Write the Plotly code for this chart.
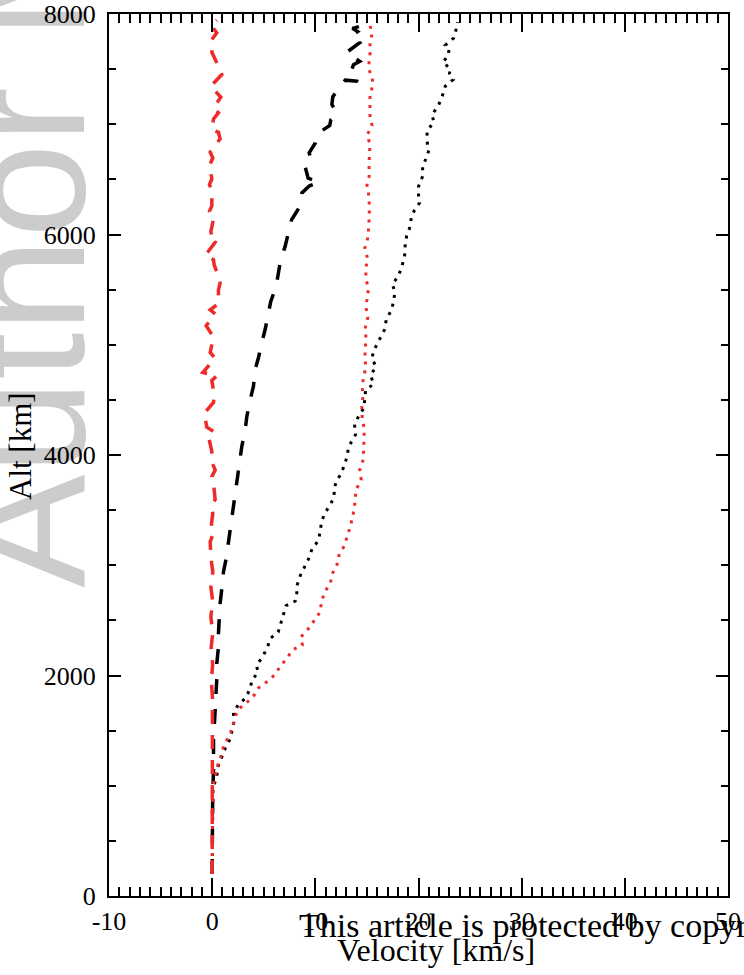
import plotly.graph_objects as go

# ---- data (velocity [km/s], altitude [km]) ----
bdot_v = [0.0, 0.0, 0.07, 0.45, 0.5, 0.9, 1.3, 1.75, 2.1, 2.06, 2.55, 3.23, 3.65, 3.87, 4.45, 4.29, 4.87, 5.32, 5.68,
          6.4, 6.65, 6.94, 7.16, 8.06, 8.2, 8.26, 8.55, 8.97, 9.4, 9.7, 10.3, 10.45, 10.6, 10.9, 11.45, 11.84, 11.8,
          12.07, 12.55, 13.0, 13.2, 13.5, 13.9, 13.8, 14.23, 14.7, 14.78, 14.88, 15.65, 15.36, 15.88, 15.46, 15.78,
          16.26, 16.7, 16.88, 17.3, 17.6, 17.7, 17.46, 18.04, 18.37, 18.65, 18.7, 18.85, 19.2, 19.3, 19.6, 20.1,
          20.0, 20.0, 20.4, 20.4, 20.8, 21.0, 20.8, 20.85, 21.5, 21.3, 21.9, 22.3, 22.6, 23.36, 23.0, 23.1, 22.36,
          22.87, 22.97, 22.6, 23.4, 23.6, 23.78]
bdot_h = [200, 600, 987, 1072, 1162, 1253, 1347, 1425, 1574, 1662, 1738, 1795, 1874, 1958, 2031, 2092, 2167, 2249,
          2340, 2394, 2469, 2548, 2633, 2675, 2745, 2827, 2909, 2987, 3069, 3154, 3223, 3299, 3390, 3472, 3547, 3626,
          3692, 3765, 3840, 3962, 4055, 4122, 4185, 4276, 4358, 4425, 4509, 4591, 4643, 4724, 4803, 4879, 4969,
          5051, 5136, 5227, 5302, 5390, 5484, 5551, 5620, 5705, 5801, 5892, 5986, 6074, 6153, 6219, 6286, 6361,
          6434, 6528, 6618, 6703, 6764, 6855, 6945, 7018, 7088, 7163, 7254, 7345, 7405, 7460, 7502, 7562, 7623,
          7684, 7717, 7781, 7841, 7926]

bdash_v = [0.0, 0.0, 0.05, 0.13, 0.13, 0.3, 0.4, 0.45, 0.45, 0.61, 0.61, 0.7, 0.77, 0.94, 1.1, 1.36, 1.58, 1.8,
           2.0, 2.2, 2.4, 2.6, 2.7, 2.87, 3.2, 3.36, 3.68, 4.0, 4.16, 4.48, 4.8, 5.13, 5.45, 5.68, 6.2, 6.36, 6.65,
           7.07, 7.4, 7.7, 8.5, 8.7, 9.4, 10.4, 9.3, 9.0, 9.6, 9.4, 10.0, 10.3, 11.4, 11.5, 12.1, 11.6, 11.7, 12.2,
           12.9, 14.1, 13.4, 13.7, 14.3, 13.0, 14.3, 13.5, 14.1, 13.6, 15.0]
bdash_h = [200, 600, 900, 1141, 1414, 1701, 1837, 1974, 2110, 2261, 2382, 2533, 2654, 2791, 2941, 3063, 3214, 3336,
           3486, 3608, 3759, 3865, 3955, 4076, 4228, 4349, 4500, 4621, 4773, 4879, 5015, 5136, 5287, 5393, 5529,
           5635, 5777, 5892, 6013, 6134, 6255, 6377, 6440, 6475, 6510, 6620, 6680, 6740, 6830, 6920, 6990, 7040,
           7100, 7180, 7250, 7320, 7400, 7390, 7460, 7540, 7570, 7650, 7740, 7800, 7840, 7870, 7905]

rdot_v = [0.0, 0.0, 0.07, 0.45, 0.8, 1.07, 1.48, 1.9, 2.16, 2.48, 3.26, 4.0, 4.5, 5.3, 6.08, 6.6, 7.23, 7.8, 8.74,
          8.6, 9.3, 9.9, 10.45, 10.6, 10.9, 11.45, 11.65, 12.1, 12.3, 12.8, 13.1, 13.4, 13.6, 13.8, 13.86, 14.0,
          14.45, 14.3, 14.65, 14.7, 14.7, 14.75, 14.55, 14.5, 14.6, 14.57, 14.65, 14.9, 14.8, 14.85, 14.9, 14.85,
          15.1, 14.9, 15.0, 15.15, 14.9, 14.9, 15.05, 14.8, 15.1, 15.17, 15.23, 15.23, 15.2, 15.0, 15.23, 15.2,
          15.27, 15.3, 15.0, 15.5, 15.3, 15.3, 15.3, 15.6, 15.5, 15.2, 15.2, 15.3, 15.3, 15.3, 15.5, 15.3]
rdot_h = [200, 600, 984, 1162, 1253, 1347, 1425, 1508, 1603, 1690, 1747, 1811, 1888, 1943, 2008, 2084, 2155, 2233,
          2276, 2349, 2421, 2497, 2573, 2667, 2757, 2836, 2923, 3005, 3093, 3175, 3266, 3354, 3438, 3523, 3611,
          3694, 3774, 3866, 3958, 4052, 4143, 4237, 4325, 4424, 4515, 4606, 4703, 4793, 4884, 4972, 5066, 5157,
          5251, 5339, 5423, 5508, 5599, 5693, 5787, 5880, 5972, 6065, 6162, 6255, 6346, 6446, 6534, 6631, 6722,
          6822, 6900, 6988, 7076, 7163, 7275, 7357, 7424, 7496, 7557, 7626, 7685, 7750, 7817, 7898]

rdash_v = [0.0, 0.0, 0.0, 0.0, -0.03, 0.03, -0.08, 0.05, -0.1, 0.06, -0.13, 0.06, -0.13, 0.06, -0.13,
           -0.19, 0.06, -0.13, 0.06, -0.03, 0.29, 0.13, -0.03, 0.29,
           -0.13, -0.03, -0.36, 0.13, -0.52, -0.77, 0.13, 0.19, -0.03, 0.45, -0.9, -0.19, 0.29, -0.19,
           0.13, -0.58, 0.29, -0.19, 0.61, 0.61, 0.77, 0.61, 0.19, 0.13, -0.68, 0.29, -0.26, -0.03, -0.13,
           0.19, -0.26, -0.03, -0.03, -0.26, -0.03, -0.26, 0.06, -0.19, 0.77, 0.61, -0.03, 0.13, 0.61, 0.13,
           0.84, -0.13, 0.71, 0.94, 0.61, -0.03, 0.13, -0.03, 0.45, -0.13, 0.45]
rdash_h = [200, 600, 900, 1200, 1500, 1800, 1950, 2100, 2250, 2391, 2533, 2669, 2806, 2942, 3072,
           3214, 3275, 3326, 3471, 3538, 3598, 3744, 3804, 3865,
           3956, 4031, 4168, 4213, 4252, 4379, 4476, 4552, 4676, 4718, 4748, 4827, 4878, 4930,
           5069, 5172, 5281, 5317, 5372, 5499, 5559, 5620, 5726, 5771, 5808, 5929, 5959, 5977, 6028,
           6165, 6210, 6262, 6392, 6452, 6503, 6625, 6694, 6746, 6867, 6927, 6951, 7048, 7103, 7148,
           7245, 7345, 7420, 7451, 7526, 7653, 7708, 7768, 7829, 7896, 7944]

x_tickvals = [-10, 0, 10, 20, 30, 40, 50]
x_ticktext = ["-10", "0", "10", "20", "30", "40", "50"]
x_range = [-10, 50]
y_range = [0, 8000]

SERIF = "Liberation Serif"
RED = "#ee2a2a"

fig = go.Figure()
fig.add_trace(go.Scatter(x=bdot_v, y=bdot_h, mode="lines",
                         line=dict(color="black", width=3, dash="3px,6px")))
fig.add_trace(go.Scatter(x=bdash_v, y=bdash_h, mode="lines",
                         line=dict(color="black", width=3.5, dash="15px,15px")))
fig.add_trace(go.Scatter(x=rdot_v, y=rdot_h, mode="lines",
                         line=dict(color=RED, width=3, dash="3px,6px")))
fig.add_trace(go.Scatter(x=rdash_v, y=rdash_h, mode="lines",
                         line=dict(color=RED, width=3.5, dash="14px,11px")))

axis_common = dict(showline=True, linecolor="black", linewidth=2, mirror="allticks",
                   ticks="inside", tickcolor="black", tickwidth=1.5, showgrid=False,
                   zeroline=False, automargin=False,
                   tickfont=dict(family=SERIF, size=26, color="black"))

fig.update_xaxes(range=x_range, tickmode="array", tickvals=x_tickvals, ticktext=x_ticktext,
                 ticklen=18, ticklabelstandoff=1,
                 minor=dict(dtick=1, tick0=0, ticklen=9, ticks="inside", tickcolor="black", tickwidth=1.5),
                 **axis_common)
fig.update_yaxes(range=y_range, dtick=2000, tick0=0, ticklen=12, ticklabelstandoff=6,
                 minor=dict(dtick=500, ticklen=7, ticks="inside", tickcolor="black", tickwidth=1.5),
                 **axis_common)

W, H = 744, 975
L, R, T, B = 109, 16, 14, 79
pw, ph = W - L - R, H - T - B


def px(x):
    return (x - L) / pw


def py(y):
    return (H - B - y) / ph


fig.add_shape(type="rect", xref="paper", yref="paper",
              x0=px(0), x1=px(18), y0=py(-92), y1=py(-112), layer="below",
              line=dict(width=0), fillcolor="rgba(0,0,0,0)",
              label=dict(text="Author Manuscript", textangle=-90, textposition="middle center",
                         font=dict(family="Liberation Sans", size=170, color="#cccccc")))

fig.add_annotation(xref="paper", yref="paper", x=px(436), y=py(950), text="Velocity [km/s]",
                   showarrow=False, xanchor="center", yanchor="middle",
                   font=dict(family=SERIF, size=32, color="black"))
fig.add_annotation(xref="paper", yref="paper", x=px(20), y=py(446), text="Alt [km]",
                   showarrow=False, xanchor="center", yanchor="middle", textangle=-90,
                   font=dict(family=SERIF, size=31, color="black"))
fig.add_annotation(xref="paper", yref="paper", x=px(297), y=py(925),
                   text="This article is protected by copyright. All rights reserved.",
                   showarrow=False, xanchor="left", yanchor="middle",
                   font=dict(family=SERIF, size=34, color="black"))

fig.update_layout(width=W, height=H, margin=dict(l=L, r=R, t=T, b=B, pad=0, autoexpand=False),
                  template="none",
                  paper_bgcolor="white", plot_bgcolor="white", showlegend=False)

fig.write_html("out.html")
